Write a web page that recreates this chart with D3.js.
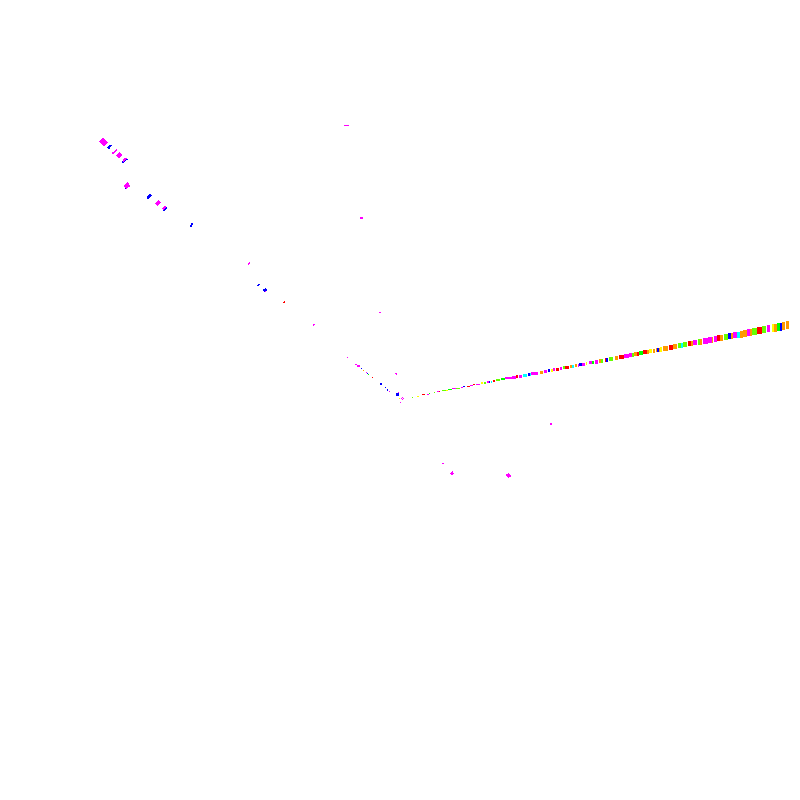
<!DOCTYPE html>
<html>
<head>
<meta charset="utf-8">
<script src="https://cdnjs.cloudflare.com/ajax/libs/d3/7.8.5/d3.min.js"></script>
<style>
html, body { margin: 0; padding: 0; background: #fff; }
svg { display: block; }
</style>
</head>
<body>
<div id="chart"></div>
<script>
// series names, one colour each
var groups = ["m", "b", "r", "o", "y", "l", "g", "c"];
var groupColors = ["#ff00ff", "#0000ff", "#ff0000", "#ff9900", "#ffff00", "#66ff00", "#00ff00", "#00ffff"];

// the long band: start, length, centre, thickness, group
var bandStart = [422,427,429,434,437,439,442,446,448,452,456,461,463,467,470,473,476,481,484,487,489,491,493,496,501,505,512,516,519,523,528,530,531,540,544,548,551,553,556,560,563,565,570,572,575,578,579,582,586,589,592,595,599,601,605,606,609,615,619,624,629,632,634,637,639,643,647,649,653,656,657,659,660,663,665,669,673,678,681,683,688,691,693,698,700,703,708,712,714,717,720,724,728,731,733,737,740,743,747,750,752,757,759,762,767,772,774,777,780,782,786];
var bandLength = [3,2,1,1,2,1,4,2,4,4,4,2,2,3,3,2,4,2,2,2,1,1,2,4,4,7,4,2,3,4,2,1,7,3,3,2,2,2,3,2,2,4,2,2,2,1,3,3,1,3,2,3,2,2,1,2,4,3,5,5,3,2,3,2,4,4,2,3,2,1,2,1,2,2,3,4,4,3,2,4,3,2,4,2,2,5,4,1,3,3,3,4,3,2,4,3,3,4,3,2,5,2,3,4,3,2,3,3,2,3,3];
var bandCentre = [405.5,406,406.6,407.6,408.3,408.6,409.5,410,410.5,411.3,412,412.9,413.3,414,414.6,415.2,415.9,416.7,417.3,417.8,418.1,418.5,418.9,419.7,420.7,421.7,423,423.3,424,424.8,425.6,425.9,426.7,428,428.7,429.4,430,430.4,431,431.7,432.2,432.8,433.6,434,434.6,435,435.4,436,436.5,437.3,437.8,438.4,439.1,439.5,440.1,440.4,441.2,442.2,443.2,444.1,444.9,445.4,445.8,446.3,446.9,447.7,448.2,448.7,449.4,449.8,450.1,450.4,450.7,451.3,451.7,452.6,453.4,454.2,454.7,455.2,456.1,456.6,457.1,458,458.3,459.1,460,460.5,461,461.6,462.2,463,463.7,464.2,464.7,465.4,466,466.7,467.3,467.8,468.5,469.1,469.6,470.2,471.5,472,472.5,473,473.5,474,474.7];
var bandThickness = [1,1,1,1,1,1,1,1,1,1,1,1,1,1,1,1,1,2,2,2,2,2,2,2,2,2,3,3,3,3,3,3,3,3,3,3,3,3,3,3,3,3,3,3,3,3,3,3,3,3,3,4,4,4,4,4,4,4,4,4,4,4,4,4,4,4,4,4,4,4,4,4,5,5,5,5,5,5,5,5,5,5,5,6,6,6,6,6,6,6,6,6,6,6,6,6,7,7,7,7,7,7,7,7,7,8,8,8,8,8,8];
var bandGroup = ["r","m","g","l","m","r","l","y","g","m","l","m","b","r","m","r","m","y","l","m","b","c","r","l","g","m","m","r","m","c","b","c","m","o","m","b","y","m","r","m","l","r","o","c","o","m","b","m","y","m","g","m","o","l","r","b","l","o","r","m","m","l","o","r","g","r","o","y","o","o","b","o","y","o","o","r","o","l","c","l","r","o","m","l","o","m","m","o","m","r","o","l","b","o","m","c","o","o","m","o","l","r","r","l","m","y","o","g","b","o","o"];

// the short tilted marks: two ends, thickness, group
var markX0 = [101.5,108,112.3,117.5,122.3,123,125,125,147.3,156,163,163.5,190.3,248.3,257.3,263.3,265,283.3,379,313.3,347,355,357.3,361,363,366,367,368,372,380,385,387.3,389,395,396,398,402,401,403,402,398.5,400,412,417,442.3,451,507,550,344,360];
var markY0 = [656.2,651.5,646.3,643,637.3,639,611.3,612.5,601.3,595,590,589,573.3,535.3,514.3,509.3,508.5,496.7,487.7,474.7,442.7,435.7,434.3,431.7,429.7,427.7,427,425.7,422.7,416,412.7,410.3,408.7,426.7,406,407.3,402.7,401.7,401.7,400.7,401.7,397.7,402.7,403.7,336.7,325.5,323.5,376,674.7,582];
var markX1 = [105.5,111,117,121,127,126.5,129.3,129,151,159.5,166,167,192.7,249.7,259.7,266.7,266,284.7,381,314.7,348,357,360,362,364,367,368,369,373,382,386,388.3,390,396.7,399,399,403,402,404,403,399.5,401,413,419,444,453.5,510,552,349,363];
var markY1 = [659.8,655,650.7,646.5,641.3,642,614.7,616,605.7,598.5,593,592,576.7,537.7,516,510.7,508.5,498.7,487.7,476,442.7,435.7,433.7,431.7,429.7,427.7,427,425.7,422.7,416,412.7,409.3,408.7,425.7,406,407.3,402.7,401.7,401.7,400.7,401.7,397.7,402.7,403.7,336.7,327.5,325.5,376,674.7,582];
var markThickness = [7,2.5,1.5,4.5,2,2,1.5,4.5,2.5,3.5,3.5,1.5,2,1.5,1.5,3,1,1.5,1,1.5,1,1,1.5,1,1,1,1,1,1,2,1,1,1,1.5,3,1,1,1,1,1,1,1,1,1.5,1,3,4,2,1,2];
var markGroup = ["m","b","m","m","b","m","b","m","b","m","m","b","b","m","b","b","m","r","m","m","m","m","m","b","o","m","b","g","r","b","b","b","m","m","b","m","m","m","m","m","y","m","l","y","m","m","m","m","m","m"];

var svg = d3.select("#chart").append("svg")
    .attr("width", 800)
    .attr("height", 800)
    .attr("viewBox", "0 0 800 800")
    .style("shape-rendering", "crispEdges");

var x = d3.scaleLinear().domain([0, 800]).range([0, 800]);
var y = d3.scaleLinear().domain([0, 800]).range([800, 0]);
var color = d3.scaleOrdinal().domain(groups).range(groupColors);

svg.append("g").selectAll("rect")
    .data(d3.range(bandStart.length))
    .enter().append("rect")
    .attr("x", function(i) { return x(bandStart[i]); })
    .attr("y", function(i) { return y(bandCentre[i] + bandThickness[i] / 2); })
    .attr("width", function(i) { return x(bandStart[i] + bandLength[i]) - x(bandStart[i]); })
    .attr("height", function(i) { return y(bandCentre[i] - bandThickness[i] / 2) - y(bandCentre[i] + bandThickness[i] / 2); })
    .attr("fill", function(i) { return color(bandGroup[i]); });

svg.append("g").selectAll("line")
    .data(d3.range(markX0.length))
    .enter().append("line")
    .attr("x1", function(i) { return x(markX0[i]); })
    .attr("y1", function(i) { return y(markY0[i]); })
    .attr("x2", function(i) { return x(markX1[i]); })
    .attr("y2", function(i) { return y(markY1[i]); })
    .attr("stroke-width", function(i) { return markThickness[i]; })
    .attr("stroke", function(i) { return color(markGroup[i]); });
</script>
</body>
</html>
